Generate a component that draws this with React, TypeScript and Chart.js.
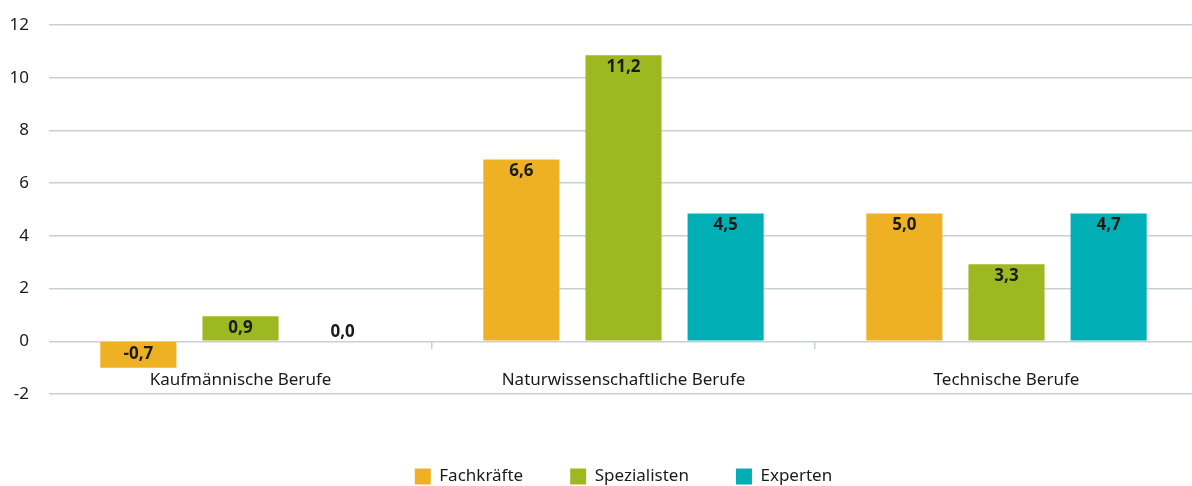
import React, { useEffect, useRef } from "react";
import { Chart, registerables } from "chart.js";

Chart.register(...registerables);

const categories = ["Kaufmännische Berufe", "Naturwissenschaftliche Berufe", "Technische Berufe"];
const seriesNames = ["Fachkräfte", "Spezialisten", "Experten"];
const colors = ["#EEB124", "#9DB820", "#00AFB5"];

// bar heights as drawn in the picture
const fachkraefteBars = [-1.0, 6.9, 4.85];
const spezialistenBars = [0.95, 10.85, 2.92];
const expertenBars = [0, 4.85, 4.85];

// value labels as printed on the bars
const fachkraefteLabels = ["-0,7", "6,6", "5,0"];
const spezialistenLabels = ["0,9", "11,2", "3,3"];
const expertenLabels = ["0,0", "4,5", "4,7"];

const yTicks = [-2, 0, 2, 4, 6, 8, 10, 12];

const FONT = "'Noto Sans', sans-serif";
const GRID = "#c8d0d7";
const TEXT = "#1a1a1a";

const barLabelPlugin = {
  id: "barLabels",
  afterDatasetsDraw(chart: any) {
    const ctx = chart.ctx;
    ctx.save();
    ctx.font = `bold 17px ${FONT}`;
    ctx.fillStyle = TEXT;
    ctx.textAlign = "center";
    ctx.textBaseline = "middle";
    chart.data.datasets.forEach((ds: any, di: number) => {
      const meta = chart.getDatasetMeta(di);
      meta.data.forEach((bar: any, i: number) => {
        const v = ds.data[i];
        const top = Math.min(bar.y, bar.base);
        const y = v === 0 ? top - 9 : top + 12;
        ctx.fillText(ds.valueLabels[i], bar.x, y);
      });
    });
    ctx.restore();
  },
};

export default function App() {
  const ref = useRef<HTMLCanvasElement>(null);
  useEffect(() => {
    if (!ref.current) return;
    const bars = [fachkraefteBars, spezialistenBars, expertenBars];
    const labels = [fachkraefteLabels, spezialistenLabels, expertenLabels];
    const chart = new Chart(ref.current, {
      type: "bar",
      data: {
        labels: categories,
        datasets: seriesNames.map((name, i) => ({
          label: name,
          data: bars[i],
          valueLabels: labels[i],
          backgroundColor: colors[i],
          borderWidth: 0,
          categoryPercentage: 0.8,
          barPercentage: 0.745,
        })) as any,
      },
      options: {
        animation: false,
        responsive: true,
        maintainAspectRatio: false,
        layout: { padding: { top: 25, left: 10, right: 0, bottom: 0 } },
        plugins: {
          tooltip: { enabled: false },
          legend: {
            position: "bottom",
            fullSize: false,
            labels: {
              font: { family: FONT, size: 17 },
              color: TEXT,
              boxWidth: 16,
              boxHeight: 16,
              padding: 47,
            },
          },
        },
        scales: {
          x: {
            position: { y: 0 } as any,
            grid: {
              drawOnChartArea: false,
              drawTicks: true,
              tickLength: 8,
              offset: true,
              lineWidth: 1.5,
              color: (c: any) => (c.index === 1 || c.index === 2 ? GRID : "rgba(0,0,0,0)"),
            },
            border: { display: false },
            ticks: {
              font: { family: FONT, size: 17 },
              color: TEXT,
              padding: 21,
            },
          },
          x2: {
            type: "linear",
            position: "bottom",
            display: true,
            grid: { display: false },
            border: { display: false },
            ticks: { display: false },
            afterFit: (s: any) => {
              s.height = 27;
            },
          } as any,
          y: {
            min: -2,
            max: 12,
            afterBuildTicks: (s: any) => {
              s.ticks = yTicks.map((v) => ({ value: v }));
            },
            afterFit: (s: any) => {
              s.width = 39;
              s.paddingTop = 0;
              s.paddingBottom = 0;
            },
            grid: { drawTicks: false, color: GRID, lineWidth: 1.5 },
            border: { display: false },
            ticks: {
              font: { family: FONT, size: 17 },
              color: TEXT,
              padding: 20,
              callback: (v: any) => String(v),
            },
          },
        },
      },
      plugins: [barLabelPlugin],
    });
    return () => chart.destroy();
  }, []);
  return (
    <div style={{ position: "absolute", left: 0, top: 0, width: 1198, height: 495 }}>
      <canvas ref={ref} />
    </div>
  );
}
